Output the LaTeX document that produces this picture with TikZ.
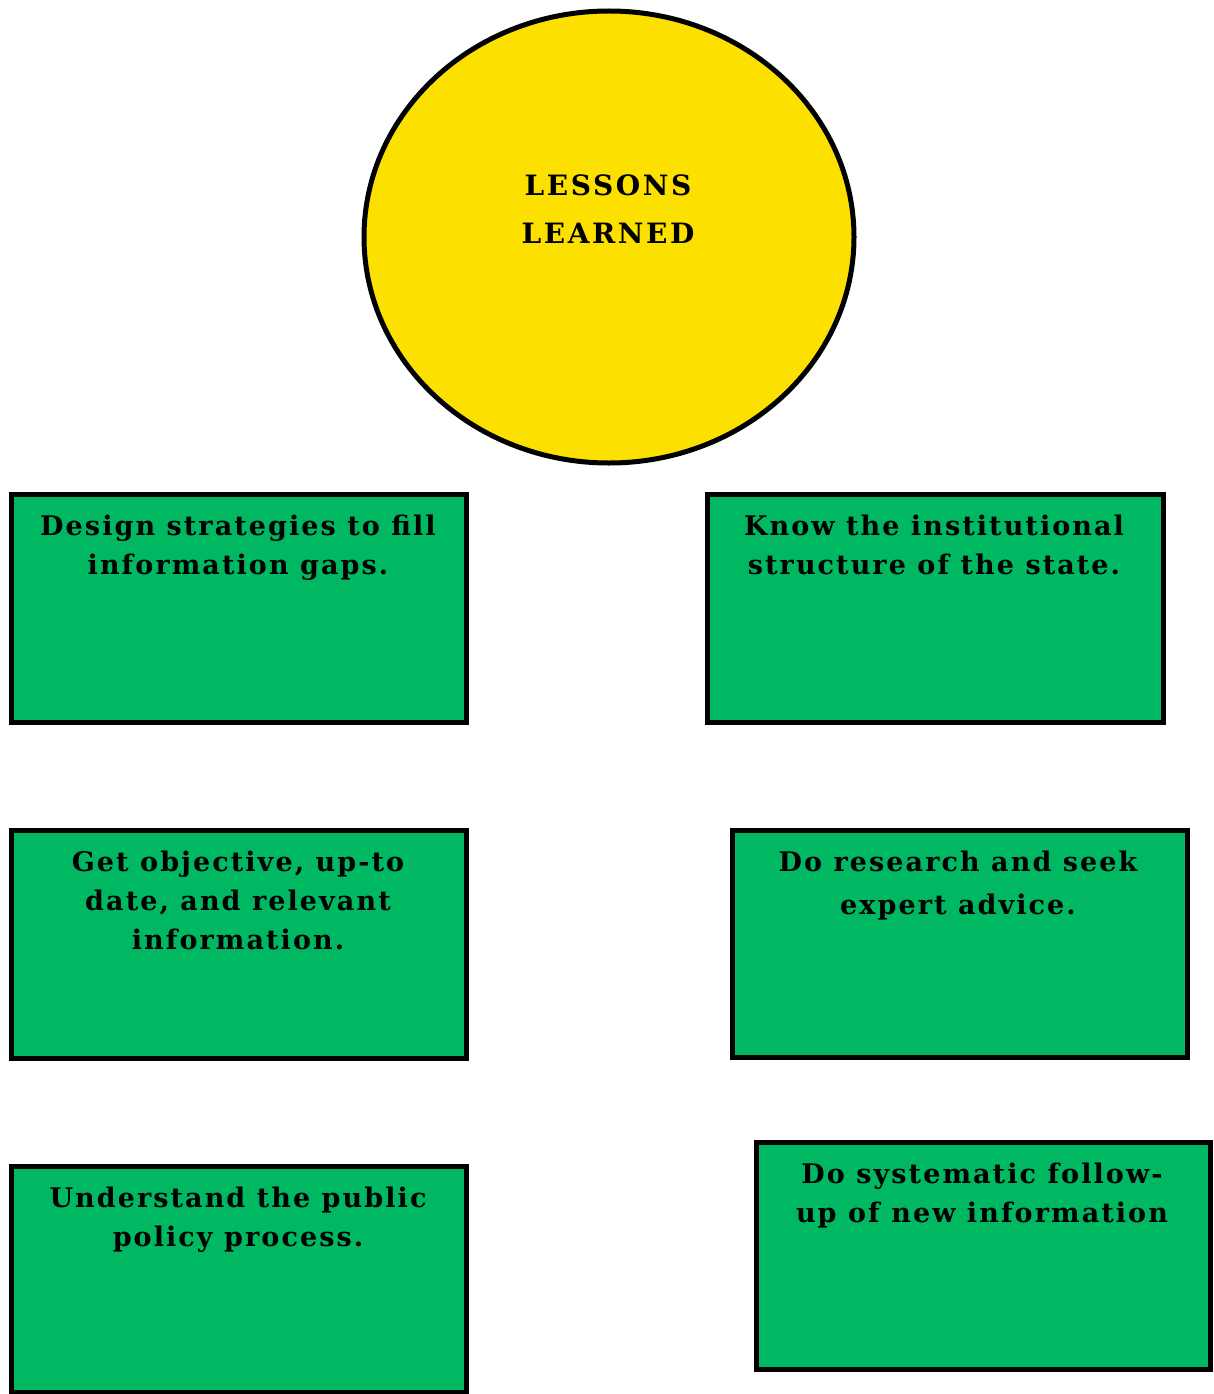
\documentclass[tikz,border=0pt]{standalone}
\usepackage{fontspec}
\setmainfont{DejaVu Serif}
\newfontfamily\boxfont{DejaVu Serif}[LetterSpace=7.7]
\newfontfamily\hubfont{DejaVu Serif}[LetterSpace=9.3]
\definecolor{sunyellow}{RGB}{252,224,0}
\definecolor{leafgreen}{RGB}{0,184,98}
\tikzset{
  lessonbox/.style={draw=black, line width=5pt, fill=leafgreen},
  lessontext/.style={anchor=north, inner sep=0pt, align=center,
    font=\boxfont\fontsize{27}{39}\selectfont\bfseries},
  hub/.style={draw=black, line width=5pt, fill=sunyellow}
}
\begin{document}
\begin{tikzpicture}[x=1pt,y=-1pt]
  \useasboundingbox (0,0) rectangle (1213,1394);
  % central ellipse
  \path[hub] (609,237) ellipse [x radius=245, y radius=226];
  \node[anchor=north, inner sep=0pt, align=center,
    font=\hubfont\fontsize{28}{48}\selectfont\bfseries] (hubtext) at (608,175) {LESSONS\\LEARNED};
  % left column
  \path[lessonbox] (11,494) rectangle (466,722);
  \node[lessontext] (t1) at (238,515) {Design strategies to fill\\information gaps.};
  \path[lessonbox] (11,830) rectangle (466,1058);
  \node[lessontext] (t3) at (238,851) {Get objective, up-to\\date, and relevant\\information.};
  \path[lessonbox] (11,1166) rectangle (466,1392);
  \node[lessontext] (t5) at (238,1187) {Understand the public\\policy process.};
  % right column
  \path[lessonbox] (707,494) rectangle (1163,722);
  \node[lessontext] (t2) at (934,515) {Know the institutional\\structure of the state.};
  \path[lessonbox] (732,830) rectangle (1187,1057);
  \node[lessontext, font=\boxfont\fontsize{27}{43}\selectfont\bfseries] (t4) at (958,851) {Do research and seek\\expert advice.};
  \path[lessonbox] (756,1142) rectangle (1210,1369);
  \node[lessontext] (t6) at (982,1163) {Do systematic follow-\\up of new information};
\end{tikzpicture}
\end{document}
